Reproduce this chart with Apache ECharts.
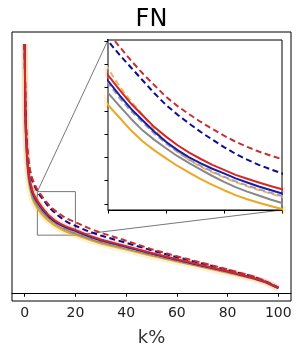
<!DOCTYPE html>
<html><head><meta charset="utf-8">
<script src="https://cdn.jsdelivr.net/npm/echarts@6/dist/echarts.min.js"></script>
<style>html,body{margin:0;padding:0;background:#fff}#c{width:303px;height:352px}</style>
</head><body><div id="c"></div>
<script>
const k = [0,0.25,0.5,1,1.5,2,3,4,5,6,7,8,9,10,11,12,13,14,15,16,17,18,19,20,25,30,40,50,60,70,80,90,95,100];
const redSolid    = [41.8,31,27,22.8,20.5,19.0,17.2,16.2,15.53,14.9,14.3,13.8,13.3,12.89,12.52,12.2,11.93,11.68,11.46,11.25,11.08,10.92,10.77,10.63,9.75,9.0,7.9,6.75,5.7,4.7,3.7,2.6,1.9,0.9];
const navySolid   = [41.8,31,26.8,22.5,20.2,18.7,16.95,15.97,15.29,14.66,14.08,13.58,13.1,12.67,12.31,12.0,11.74,11.51,11.31,11.1,10.92,10.75,10.6,10.45,9.6,8.87,7.78,6.65,5.6,4.62,3.63,2.55,1.87,0.88];
const graySolid   = [41.8,30.5,26.3,22.0,19.7,18.2,16.4,15.45,14.77,14.2,13.65,13.15,12.75,12.39,12.05,11.75,11.47,11.2,10.95,10.72,10.53,10.36,10.19,10.04,9.27,8.58,7.53,6.45,5.45,4.5,3.55,2.5,1.85,0.86];
const orangeSolid = [41.8,30,25.8,21.5,19.2,17.7,15.9,14.95,14.25,13.7,13.15,12.68,12.3,11.96,11.63,11.35,11.07,10.82,10.59,10.38,10.2,10.05,9.91,9.78,9.03,8.35,7.33,6.28,5.3,4.38,3.45,2.45,1.8,0.85];
const redDashed   = [41.8,32,28.5,24.5,22.2,20.8,19.2,18.2,17.35,16.75,16.15,15.6,15.1,14.6,14.2,13.85,13.52,13.22,12.93,12.67,12.45,12.25,12.08,11.92,10.95,10.15,8.8,7.4,6.2,5.1,4.0,2.85,2.05,0.95];
const navyDashed  = [41.8,31.8,28.2,24.2,21.9,20.5,18.9,17.9,17.0,16.4,15.85,15.3,14.75,14.25,13.83,13.45,13.09,12.76,12.44,12.15,11.9,11.68,11.49,11.31,10.4,9.68,8.45,7.2,6.05,4.98,3.9,2.78,2.0,0.93];
const grayDashed  = [41.8,31,26.8,22.5,20.2,18.65,16.9,15.9,15.2,14.55,13.98,13.5,13.02,12.6,12.23,11.9,11.63,11.39,11.17,10.97,10.79,10.63,10.48,10.34,9.5,8.8,7.7,6.6,5.55,4.58,3.6,2.52,1.86,0.87];
const orangeDashed= [41.8,31.5,27.5,23.5,21.2,19.7,17.9,16.7,15.82,15.05,14.4,13.82,13.2,12.66,12.25,11.88,11.6,11.36,11.14,10.94,10.76,10.6,10.45,10.3,9.47,8.78,7.68,6.58,5.53,4.56,3.58,2.5,1.85,0.86];
const xTicks = [0,20,40,60,80,100];
const insetXRange = [5,20];
const insetYRange = [9.74,17.04];
const insetYTicks = [10,11,12,13,14,15,16,17];

const pairs = a => k.map((x,i)=>[x,a[i]]);
const defs = [
  {d:orangeSolid, c:'#eaa823', dash:'solid'},
  {d:graySolid,   c:'#888888', dash:'solid'},
  {d:orangeDashed,c:'#efb55c', dash:[6,3.5]},
  {d:grayDashed,  c:'#9d9db8', dash:[6,3.5]},
  {d:navyDashed,  c:'#0c0c8c', dash:[6,3.5]},
  {d:redDashed,   c:'#c63030', dash:[6,3.5]},
  {d:navySolid,   c:'#1c1ca0', dash:'solid'},
  {d:redSolid,    c:'#d42828', dash:'solid'}
];
const bands = [
  {d:orangeSolid, c:'rgba(245,190,60,0.22)', w:7},
  {d:redSolid, c:'rgba(225,90,90,0.15)', w:6}
];
const series = [];
[0,1].forEach(g=>{
  bands.forEach(b=>series.push({type:'line',xAxisIndex:g,yAxisIndex:g,data:pairs(b.d),showSymbol:false,
    lineStyle:{color:b.c,width:b.w,join:'round'},silent:true,animation:false,z:1}));
  defs.forEach(s=>series.push({type:'line',xAxisIndex:g,yAxisIndex:g,data:pairs(s.d),showSymbol:false,
    lineStyle:{color:s.c,width:2,type:s.dash,join:'round'},silent:true,animation:false}));
});
series.push({type:'line',xAxisIndex:0,yAxisIndex:0,data:[],silent:true,
  markArea:{silent:true,itemStyle:{color:'rgba(0,0,0,0)',borderColor:'#777',borderWidth:1},
    data:[[{coord:[insetXRange[0],insetYRange[0]]},{coord:[insetXRange[1],insetYRange[1]]}]]}});

const chart = echarts.init(document.getElementById('c'));
chart.setOption({
  animation:false,
  backgroundColor:'#fff',
  title:{text:'FN',left:'center',top:3,textStyle:{fontSize:24,fontWeight:'normal',color:'#000',fontFamily:'DejaVu Sans'}},
  grid:[
    {left:12,right:12,top:32,bottom:48,show:true,borderColor:'#000',borderWidth:1},
    {left:108,top:40,width:174,height:170,show:true,borderColor:'#000',borderWidth:1,backgroundColor:'#fff',z:3}
  ],
  xAxis:[
    {type:'value',gridIndex:0,min:-5,max:105,name:'k%',nameLocation:'middle',nameGap:28,
     nameTextStyle:{fontSize:18,color:'#333',fontFamily:'DejaVu Sans'},
     axisLine:{show:true,lineStyle:{color:'#000'}},
     axisTick:{show:true,length:3.5,lineStyle:{color:'#000'},customValues:xTicks},
     axisLabel:{show:true,fontSize:14,color:'#222',margin:5,fontFamily:'DejaVu Sans',customValues:xTicks},
     splitLine:{show:false}},
    {type:'value',gridIndex:1,min:insetXRange[0],max:insetXRange[1],interval:5,
     axisLine:{show:true,lineStyle:{color:'#000'}},
     axisTick:{show:true,length:3.5,lineStyle:{color:'#000'}},
     axisLabel:{show:false},splitLine:{show:false}}
  ],
  yAxis:[
    {type:'value',gridIndex:0,min:-1.3,max:43.8,axisLine:{show:false},axisTick:{show:false},axisLabel:{show:false},splitLine:{show:false}},
    {type:'value',gridIndex:1,min:insetYRange[0],max:insetYRange[1],
     axisLine:{show:true,lineStyle:{color:'#000'}},
     axisTick:{show:true,length:3.5,lineStyle:{color:'#000'},customValues:insetYTicks},
     axisLabel:{show:false},splitLine:{show:false}}
  ],
  series:series
});
const p1 = chart.convertToPixel({gridIndex:0},[insetXRange[0],insetYRange[1]]);
const q1 = chart.convertToPixel({gridIndex:1},[insetXRange[0],insetYRange[1]]);
const p2 = chart.convertToPixel({gridIndex:0},[insetXRange[1],insetYRange[0]]);
const q2 = chart.convertToPixel({gridIndex:1},[insetXRange[1],insetYRange[0]]);
chart.setOption({graphic:[
  {type:'line',z:0,silent:true,shape:{x1:p1[0],y1:p1[1],x2:q1[0],y2:q1[1]},style:{stroke:'#777',lineWidth:1}},
  {type:'line',z:0,silent:true,shape:{x1:p2[0],y1:p2[1],x2:q2[0],y2:q2[1]},style:{stroke:'#777',lineWidth:1}}
]});
</script></body></html>
